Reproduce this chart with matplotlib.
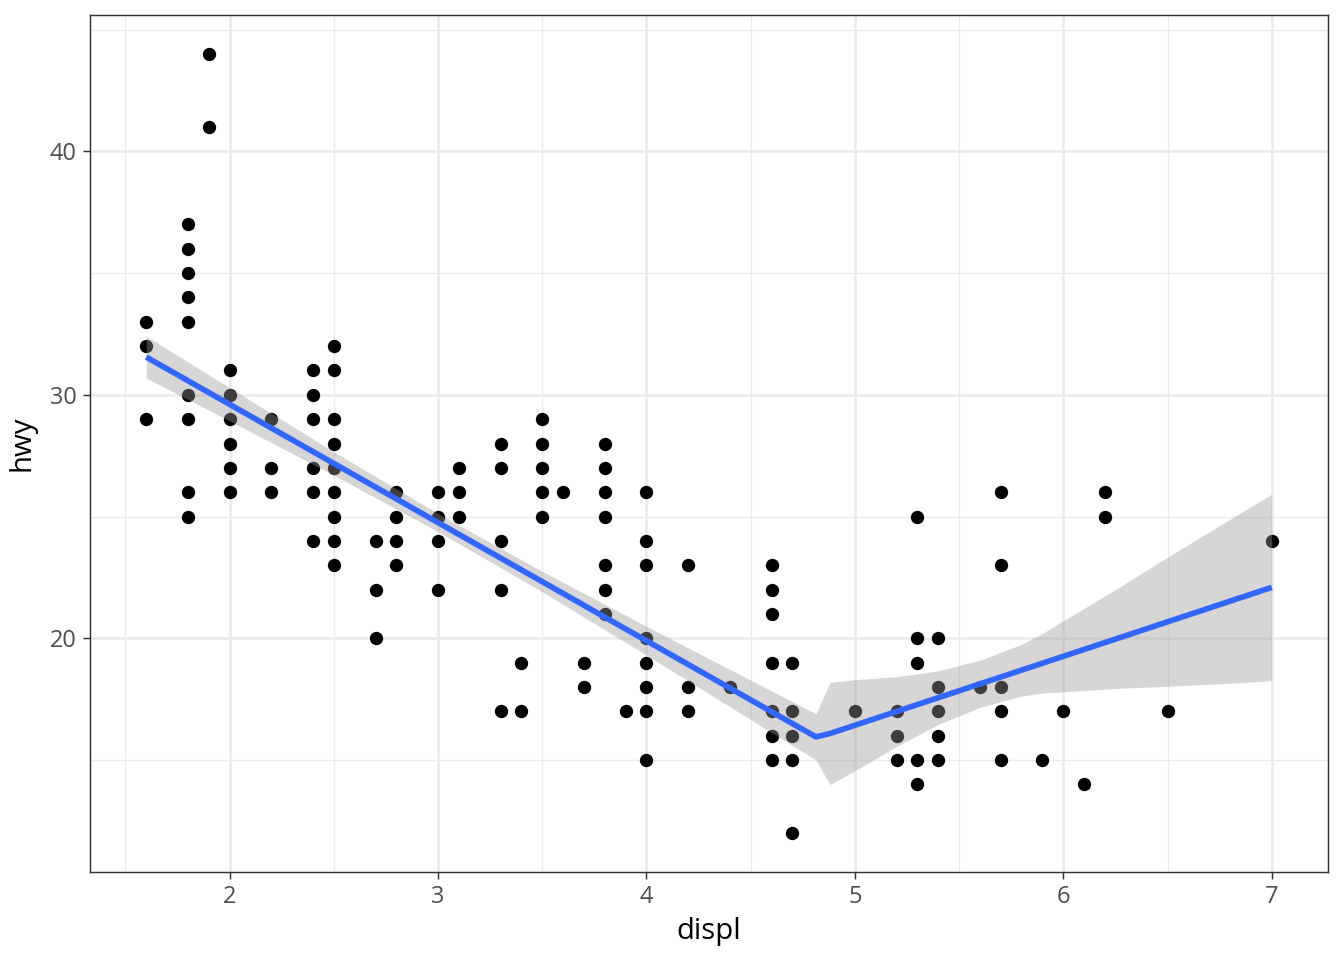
import numpy as np
import matplotlib
matplotlib.use("Agg")
import matplotlib.pyplot as plt

plt.rcParams['font.family'] = ['Open Sans', 'DejaVu Sans']

# mpg: displ vs hwy (unique points)
pts = {
    1.6: [33, 32, 29],
    1.8: [37, 36, 35, 34, 33, 30, 29, 26, 25],
    1.9: [44, 41],
    2.0: [31, 30, 29, 28, 27, 26],
    2.2: [29, 27, 26],
    2.4: [31, 30, 29, 27, 26, 24],
    2.5: [32, 31, 29, 28, 27, 26, 25, 24, 23],
    2.7: [24, 22, 20],
    2.8: [26, 25, 24, 23],
    3.0: [26, 25, 24, 22],
    3.1: [27, 26, 25],
    3.3: [28, 27, 24, 22, 17],
    3.4: [19, 17],
    3.5: [29, 28, 27, 26, 25],
    3.6: [26],
    3.7: [19, 18],
    3.8: [28, 27, 26, 25, 23, 22, 21],
    3.9: [17],
    4.0: [26, 24, 23, 20, 19, 18, 17, 15],
    4.2: [23, 18, 17],
    4.4: [18],
    4.6: [23, 22, 21, 19, 17, 16, 15],
    4.7: [19, 17, 16, 15, 12],
    5.0: [17],
    5.2: [17, 16, 15],
    5.3: [25, 20, 19, 15, 14],
    5.4: [20, 18, 17, 16, 15],
    5.6: [18],
    5.7: [26, 23, 18, 17, 15],
    5.9: [15],
    6.0: [17],
    6.1: [14],
    6.2: [26, 25],
    6.5: [17],
    7.0: [24],
}
displ = [d for d, hs in pts.items() for h in hs]
hwy = [h for d, hs in pts.items() for h in hs]

# smooth fit
fit_x = [1.6, 4.813, 4.881, 7.0]
fit_y = [31.55, 15.95, 16.09, 22.09]

band_x = [1.6, 2.0, 2.5, 3.0, 3.5, 4.0, 4.5, 4.813,
          4.881, 5.0, 5.2, 5.4, 5.6, 5.8, 5.9, 6.0, 6.25, 6.5, 6.75, 7.0]
band_hi = [32.41, 30.29, 27.66, 25.12, 22.75, 20.49, 18.28, 16.90,
           18.19, 18.30, 18.42, 18.66, 19.10, 19.75, 20.20, 20.72, 22.00, 23.33, 24.63, 25.92]
band_lo = [30.69, 28.93, 26.70, 24.38, 21.91, 19.31, 16.66, 15.00,
           13.99, 14.56, 15.56, 16.46, 17.16, 17.63, 17.75, 17.80, 17.94, 18.03, 18.13, 18.26]

fig = plt.figure(figsize=(7, 5), dpi=192)
ax = fig.add_axes([90/1344, 1-872/960, (1328-90)/1344, (872-15)/960])

ax.scatter(displ, hwy, s=25, color='black', linewidths=0, zorder=3)
ax.fill_between(band_x, band_lo, band_hi, color='#999999', alpha=0.4,
                linewidth=0, zorder=4)
ax.plot(fit_x, fit_y, color='#3366FF', linewidth=2.13, zorder=5,
        solid_capstyle='butt')

ax.set_xlim(1.33, 7.27)
ax.set_ylim(10.4, 45.6)
ax.set_xticks([2, 3, 4, 5, 6, 7])
ax.set_yticks([20, 30, 40])
ax.set_xticks(np.arange(1.5, 7.0, 1.0), minor=True)
ax.set_yticks([15, 25, 35, 45], minor=True)

ax.grid(True, which='major', color='#EBEBEB', linewidth=1.0, zorder=0)
ax.grid(True, which='minor', color='#EBEBEB', linewidth=0.5, zorder=0)
ax.set_axisbelow(True)
for s in ax.spines.values():
    s.set_color('#333333')
    s.set_linewidth(0.55)

ax.tick_params(which='major', length=2.75, width=0.55, color='#333333',
               labelsize=8.8, labelcolor='#4D4D4D', pad=2.2)
ax.tick_params(which='minor', length=0)

ax.set_xlabel('displ', fontsize=11, labelpad=3)
ax.set_ylabel('hwy', fontsize=11, labelpad=5)

fig.savefig('out.png', dpi=192)
